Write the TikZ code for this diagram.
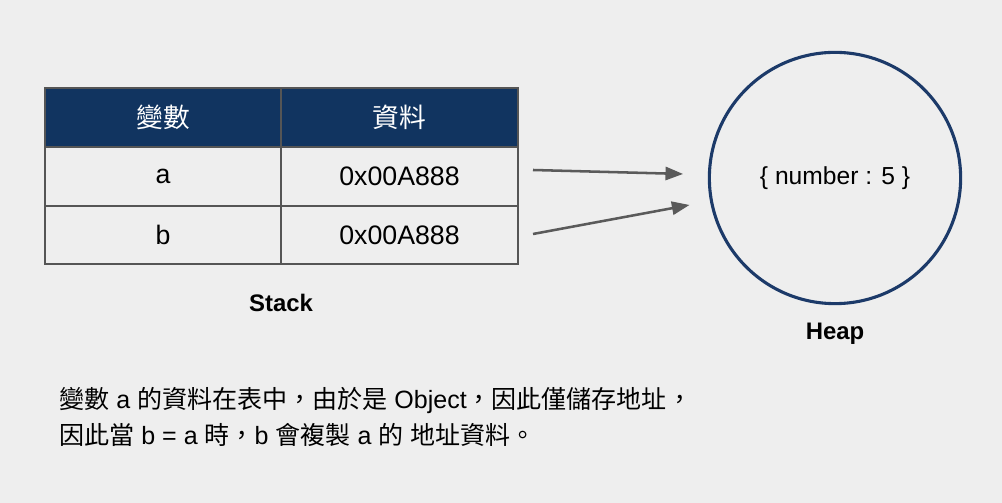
\documentclass[tikz,border=0pt]{standalone}
\usepackage{fontspec}
\setmainfont{Liberation Sans}
\newfontfamily\cjk{Noto Sans CJK TC}
\usetikzlibrary{arrows.meta,positioning}
\definecolor{navyhead}{RGB}{17,52,96}
\definecolor{navyring}{RGB}{28,58,105}
\definecolor{gridgrey}{RGB}{85,85,85}
\definecolor{arrowgrey}{RGB}{90,90,90}
\definecolor{bggrey}{RGB}{238,238,238}

\begin{document}
\begin{tikzpicture}[x=0.025cm,y=-0.025cm,
  cell/.style={draw=gridgrey,line width=1.4pt,minimum width=5.9cm,
               minimum height=1.4675cm,inner sep=0pt,
               font=\fontsize{19pt}{22pt}\selectfont},
  head/.style={cell,fill=navyhead,text=white},
  ptr/.style={-{Triangle[length=0.44cm,width=0.33cm]},arrowgrey,
              line width=1.8pt},
  caption/.style={font=\bfseries\fontsize{17pt}{20pt}\selectfont}]
  \fill[bggrey] (0,0) rectangle (1002,503);
  \useasboundingbox (0,0) rectangle (1002,503);
  % stack table
  \node[head] (hvar) at (163,117.5) {\cjk 變數};
  \node[head] (hdata) at (399.5,117.5) {\cjk 資料};
  \foreach \v/\y in {a/176.2,b/234.9}{
    \node[cell] (var\v) at (163,\y) {\v};
    \node[cell] (data\v) at (399.5,\y) {0x00A888};
  }
  \node[caption] (stack) at (281,303) {Stack};
  % heap
  \node[circle,draw=navyring,line width=2.2pt,minimum size=6.28cm,
        font=\fontsize{17.5pt}{20pt}\selectfont] (heap) at (835,178)
        {\{ number : 5 \}};
  \node[caption] (heaplbl) at (835,334) {Heap};
  % pointers
  \coordinate (pa) at (533,170);
  \coordinate (pb) at (533,234);
  \draw[ptr,shorten >=0.62cm] (pa) -- (heap);
  \draw[ptr,shorten >=0.52cm] (pb) -- (heap);
  % note
  \node[anchor=west,align=left,inner sep=0pt,
        font=\fontsize{17.8pt}{25pt}\selectfont] (note) at (59,417)
        {{\cjk 變數} a {\cjk 的資料在表中，由於是} Object{\cjk ，因此僅儲存地址，}\\
         {\cjk 因此當} b = a {\cjk 時，}b {\cjk 會複製} a {\cjk 的} {\cjk 地址資料。}};
\end{tikzpicture}
\end{document}
